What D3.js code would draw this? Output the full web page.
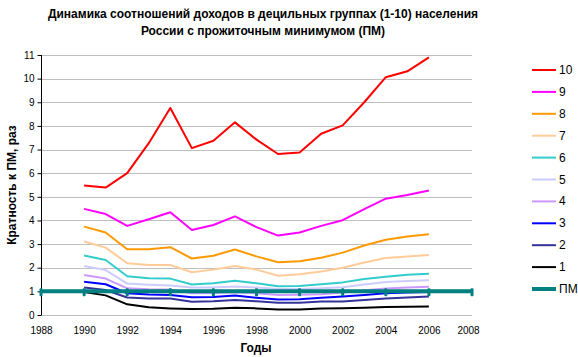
<!DOCTYPE html>
<html><head><meta charset="utf-8">
<script src="https://cdn.jsdelivr.net/npm/d3@7"></script>
<style>
body{margin:0;background:#fff;}
text{font-family:"Liberation Sans",Arial,sans-serif;}
</style></head><body>
<svg id="c" width="578" height="357"></svg>
<script>
const years = d3.range(1990, 2007);
const pmYears = d3.range(1988, 2009, 2);
const pmValues = pmYears.map(() => 1);
const xTicks = d3.range(1988, 2009, 2);
const yTicks = d3.range(0, 12);
const s10 = [5.48, 5.39, 6.0, 7.27, 8.76, 7.06, 7.37, 8.15, 7.42, 6.81, 6.88, 7.67, 8.02, 9.0, 10.06, 10.31, 10.9];
const s9 = [4.49, 4.27, 3.77, 4.05, 4.35, 3.6, 3.81, 4.17, 3.72, 3.36, 3.49, 3.77, 4.01, 4.48, 4.92, 5.08, 5.27];
const s8 = [3.74, 3.49, 2.78, 2.78, 2.87, 2.39, 2.51, 2.77, 2.48, 2.23, 2.27, 2.42, 2.64, 2.94, 3.18, 3.32, 3.42];
const s7 = [3.11, 2.85, 2.19, 2.12, 2.12, 1.81, 1.92, 2.07, 1.92, 1.66, 1.72, 1.84, 2.0, 2.22, 2.41, 2.47, 2.54];
const s6 = [2.52, 2.33, 1.64, 1.55, 1.54, 1.29, 1.34, 1.45, 1.34, 1.22, 1.23, 1.30, 1.38, 1.52, 1.62, 1.70, 1.74];
const s5 = [2.07, 1.90, 1.33, 1.28, 1.25, 1.16, 1.16, 1.21, 1.16, 1.10, 1.10, 1.13, 1.17, 1.29, 1.40, 1.44, 1.47];
const s4 = [1.69, 1.54, 1.13, 1.09, 1.08, 0.92, 0.93, 0.96, 0.92, 0.85, 0.86, 0.88, 0.95, 1.05, 1.12, 1.16, 1.20];
const s3 = [1.41, 1.30, 0.92, 0.87, 0.85, 0.75, 0.76, 0.82, 0.73, 0.66, 0.67, 0.73, 0.78, 0.85, 0.92, 0.95, 0.97];
const s2 = [1.16, 1.06, 0.74, 0.70, 0.70, 0.56, 0.58, 0.63, 0.58, 0.52, 0.52, 0.57, 0.57, 0.63, 0.70, 0.74, 0.78];
const s1 = [0.97, 0.83, 0.45, 0.33, 0.28, 0.25, 0.26, 0.31, 0.28, 0.23, 0.23, 0.28, 0.29, 0.31, 0.34, 0.35, 0.36];
const seriesNames = ["10","9","8","7","6","5","4","3","2","1"];
const seriesData = [s10,s9,s8,s7,s6,s5,s4,s3,s2,s1];
const colors = ["#FF0000","#FF00FF","#FF9900","#FFCC99","#33CCCC","#CCCCFF","#CC99FF","#0000FF","#333399","#000000"];
const pmName = "ПМ", pmColor = "#008080";

const svg = d3.select("#c");
const x = d3.scaleLinear().domain([1988, 2008]).range([41, 472]);
const y = d3.scaleLinear().domain([0, 11]).range([315, 55]);

// title
svg.append("text").attr("x", 263).attr("y", 18).attr("text-anchor","middle")
  .style("font-size","12px").style("font-weight","bold")
  .text("Динамика соотношений доходов в децильных группах (1-10) населения");
svg.append("text").attr("x", 263).attr("y", 35).attr("text-anchor","middle")
  .style("font-size","12px").style("font-weight","bold")
  .text("России с прожиточным минимумом (ПМ)");

// gridlines
svg.append("g").selectAll("line").data(yTicks).join("line")
  .attr("x1", x(1988)).attr("x2", x(2008))
  .attr("y1", d => Math.round(y(d)) + 0.5).attr("y2", d => Math.round(y(d)) + 0.5)
  .attr("stroke", "#C0C0C0").attr("stroke-width", 1);

// y axis
const ya = svg.append("g").attr("transform", "translate(41.5,0)")
  .call(d3.axisLeft(y).tickValues(yTicks).tickSize(4).tickPadding(3).tickFormat(d3.format("d")));
ya.select(".domain").attr("stroke","#000").attr("d", `M0,${y(11)}V${y(0)}`);
ya.selectAll(".tick line").attr("stroke","#000");
ya.selectAll("text").style("font-size","10px").style("font-family","'Liberation Sans',Arial,sans-serif").attr("fill","#000");

// x axis labels
const xa = svg.append("g").attr("transform", `translate(0,${y(0)})`)
  .call(d3.axisBottom(x).tickValues(xTicks).tickSize(0).tickPadding(12).tickFormat(d3.format("d")));
xa.select(".domain").remove();
xa.selectAll("text").style("font-size","10px").style("font-family","'Liberation Sans',Arial,sans-serif").attr("fill","#000")
  .attr("dx", d => d === 2008 ? -4 : 0);

// axis titles
svg.append("text").attr("x", 256).attr("y", 352).attr("text-anchor","middle")
  .style("font-size","12px").style("font-weight","bold").text("Годы");
svg.append("text").attr("transform","translate(16,185) rotate(-90)").attr("text-anchor","middle")
  .style("font-size","12px").style("font-weight","bold").text("Кратность к ПМ, раз");

// series lines (1 drawn first, 10 last)
const line = d3.line().x((d,i) => x(years[i])).y(d => y(d));
const order = d3.range(seriesData.length).reverse();
svg.append("g").selectAll("path").data(order).join("path")
  .attr("d", i => line(seriesData[i]))
  .attr("fill","none").attr("stroke", i => colors[i]).attr("stroke-width", 2)
  .attr("stroke-linejoin","round");

// PM line
const pmLine = d3.line().x((d,i) => x(pmYears[i])).y(d => y(d));
svg.append("path").attr("d", pmLine(pmValues)).attr("fill","none")
  .attr("stroke", pmColor).attr("stroke-width", 4);
svg.append("g").selectAll("rect").data(pmValues).join("rect")
  .attr("x", (d,i) => x(pmYears[i]) - 1.5).attr("y", d => y(d) - 3)
  .attr("width", 3).attr("height", 8).attr("rx", 1).attr("fill", pmColor);

// legend
const legNames = seriesNames.concat([pmName]);
const legColors = colors.concat([pmColor]);
const lg = svg.append("g");
legNames.forEach((n, i) => {
  const ly = 70 + i * 21.9;
  lg.append("line").attr("x1", 532).attr("x2", 556).attr("y1", ly).attr("y2", ly)
    .attr("stroke", legColors[i]).attr("stroke-width", i === legNames.length - 1 ? 4 : 2);
  lg.append("text").attr("x", 559).attr("y", ly + 4).style("font-size","12px").text(n);
});
</script></body></html>
